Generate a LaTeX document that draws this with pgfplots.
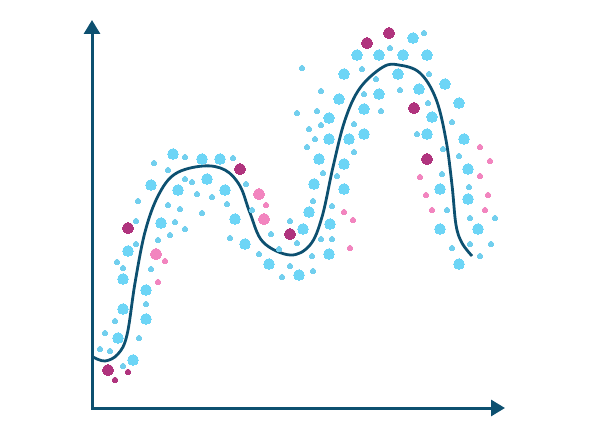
\documentclass[border=0pt]{standalone}
\usepackage{pgfplots}
\pgfplotsset{compat=1.18}
\usetikzlibrary{arrows.meta}
\definecolor{axiscol}{HTML}{0D5070}
\definecolor{dotblue}{HTML}{6DD5F6}
\definecolor{dotblues}{HTML}{72CFEE}
\definecolor{dotmag}{HTML}{B0347E}
\definecolor{dotpink}{HTML}{F285BF}
\begin{document}
\begin{tikzpicture}
\begin{axis}[
  scale only axis, width=591bp, height=428bp,
  xmin=0, xmax=591, ymin=0, ymax=428, y dir=reverse,
  hide axis, clip=false,
]
\draw[draw=none] (rel axis cs:0,0) rectangle (rel axis cs:1,1);
% large blue dots
\addplot[only marks, color=dotblue, mark=*, mark size=5.4bp, mark options={solid, draw=dotblue, fill=dotblue, line width=0pt}] coordinates {
(173,154)(202,159)(220,159)(151,185)(207,179)(178,190)(225,190)(161,223)(235,219)(245,244)
(128,251)(123,279)(146,290)(123,309)(146,319)(118,338)(133,360)(269,264)(299,275)(309,212)
(303,229)(330,224)(329,254)(314,184)(344,189)(319,159)(344,164)(329,139)(349,139)(364,134)
(329,118)(364,109)(339,99)(379,94)(344,74)(398,74)(357,55)(379,55)(403,55)(427,55)
(413,38)(419,89)(445,84)(459,103)(432,117)(427,134)(464,139)(468,169)(440,189)(468,199)
(440,229)(478,229)(459,264)};
% small blue dots
\addplot[only marks, color=dotblues, mark=*, mark size=2.7bp, mark options={solid, draw=dotblues, fill=dotblues, line width=0pt}] coordinates {
(185,157)(233,158)(154,163)(168,170)(185,179)(192,182)(246,184)(197,194)(212,197)(138,201)
(168,205)(227,204)(180,209)(252,210)(202,213)(136,221)(175,222)(185,229)(170,235)(158,240)
(230,238)(271,234)(297,243)(136,244)(117,262)(123,268)(151,269)(146,304)(115,321)(105,333)
(139,338)(100,349)(110,351)(123,366)(259,254)(279,249)(290,266)(282,277)(290,221)(313,201)
(332,206)(312,256)(313,271)(321,239)(332,239)(302,68)(297,113)(362,69)(376,79)(321,91)
(364,94)(400,90)(317,111)(381,111)(321,125)(309,129)(354,124)(315,139)(307,147)(354,152)
(323,173)(337,176)(390,48)(424,33)(429,74)(428,103)(452,122)(417,134)(443,149)(459,156)
(442,174)(469,187)(447,210)(470,218)(495,218)(452,248)(470,244)(491,244)(480,256)};
% magenta dots
\addplot[only marks, color=dotmag, mark=*, mark size=5.5bp, mark options={solid, draw=dotmag, fill=dotmag, line width=0pt}] coordinates {
(240,169)(128,228)(290,234)(108,370)(389,33)(367,43)(414,108)(427,159)};
\addplot[only marks, color=dotmag, mark=*, mark size=2.8bp, mark options={solid, draw=dotmag, fill=dotmag, line width=0pt}] coordinates {
(128,372)(115,380)};
% pink dots
\addplot[only marks, color=dotpink, mark=*, mark size=5.5bp, mark options={solid, draw=dotpink, fill=dotpink, line width=0pt}] coordinates {
(259,194)(264,219)(156,254)};
\addplot[only marks, color=dotpink, mark=*, mark size=2.7bp, mark options={solid, draw=dotpink, fill=dotpink, line width=0pt}] coordinates {
(266,205)(165,261)(158,282)(344,212)(353,220)(350,248)(480,147)(490,161)(420,177)(480,176)
(426,195)(488,195)(432,210)(485,210)};
% curve
\addplot[axiscol, line width=2.8bp, smooth, tension=0.6, no marks] coordinates {
(93,357)(105,361)(118,354)(127,335)(135,283)(145,232)(158,196)(175,174)(203,166)(225,170)
(240,186)(250,213)(263,242)(290,255)(310,245)(322,217)(333,167)(345,120)(360,88)(383,67)
(399,65)(420,73)(436,99)(446,140)(452,185)(456,225)(462,243)(472,256)};
% axes
\addplot[axiscol, line width=3bp, no marks, {Triangle[length=14bp,width=16bp]}-{Triangle[length=14bp,width=16bp]}] coordinates {
(92,20)(92,408)(505,408)};
\end{axis}
\end{tikzpicture}
\end{document}
